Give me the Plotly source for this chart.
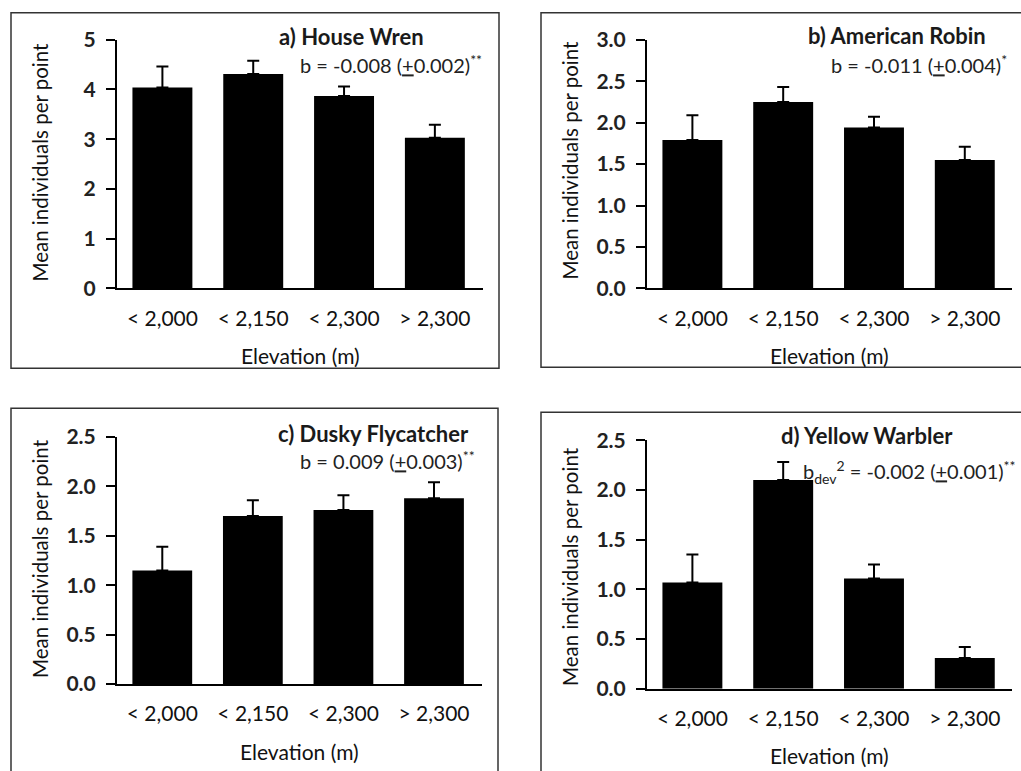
import plotly.graph_objects as go

# ---------------- data ----------------
categories = ["< 2,000", "< 2,150", "< 2,300", "> 2,300"]

house_wren = [4.04, 4.31, 3.87, 3.03]
house_wren_se = [0.42, 0.27, 0.19, 0.26]

american_robin = [1.79, 2.25, 1.94, 1.55]
american_robin_se = [0.30, 0.18, 0.13, 0.16]

dusky_flycatcher = [1.15, 1.70, 1.76, 1.88]
dusky_flycatcher_se = [0.24, 0.16, 0.15, 0.16]

yellow_warbler = [1.07, 2.10, 1.11, 0.31]
yellow_warbler_se = [0.28, 0.18, 0.14, 0.11]

panel_titles = ["a) House Wren", "b) American Robin", "c) Dusky Flycatcher", "d) Yellow Warbler"]
panel_stats = [
    "b = -0.008 (<u>+</u>0.002)<sup>**</sup>",
    "b = -0.011 (<u>+</u>0.004)<sup>*</sup>",
    "b = 0.009 (<u>+</u>0.003)<sup>**</sup>",
    "b<sub>dev</sub><sup>2</sup> = -0.002 (<u>+</u>0.001)<sup>**</sup>",
]
y_ranges = [[0, 5], [0, 3], [0, 2.5], [0, 2.5]]
y_dticks = [1, 0.5, 0.5, 0.5]
y_formats = ["d", ".1f", ".1f", ".1f"]
x_label = "Elevation (m)"
y_label = "Mean individuals per point"

# ---------------- layout helpers (pixel geometry) ----------------
W, H = 1021, 771
FONT = "Lato"
# measured vertical mapping of the viewer (screen_y = 0.969 * fig_y + 13.2)
VS, VO = 0.969, 13.2

def px(x):
    return x / W

def py(y):
    f = (y - VO) / VS
    return 1 - f / H

# axis pixel boxes (target screen pixels): (x0, x1, ytop, ybottom)
boxes = [
    (117, 483, 39, 288),
    (647, 1012, 39, 288),
    (117, 482, 436.7, 684.3),
    (647, 1012, 440, 689),
]
x_ranges = [[-0.5, 3.53], [-0.5, 3.52], [-0.5, 3.53], [-0.5, 3.52]]
frames = [
    (11, 12, 499, 368),
    (541, 12, 1040, 367),
    (11, 408, 498, 800),
    (541, 412, 1040, 800),
]
title_pos = [(351, 36), (897, 35), (373, 433), (867, 435)]
stat_pos = [(298, 63), (829, 63), (298, 460), (801, 472)]
ytitle_pos = [(40, 162), (570, 160), (40, 559), (570, 567)]

values = [house_wren, american_robin, dusky_flycatcher, yellow_warbler]
errors = [house_wren_se, american_robin_se, dusky_flycatcher_se, yellow_warbler_se]

fig = go.Figure()
annotations = []
shapes = []

for i in range(4):
    xa = "x" if i == 0 else f"x{i+1}"
    ya = "y" if i == 0 else f"y{i+1}"
    fig.add_trace(go.Bar(
        x=categories, y=values[i],
        xaxis=xa, yaxis=ya,
        marker=dict(color="black", line=dict(width=0)),
        width=0.66,
        error_y=dict(type="data", symmetric=False, array=errors[i],
                     arrayminus=[0] * 4, color="black", thickness=2, width=6),
        showlegend=False,
    ))
    x0, x1, yt, yb = boxes[i]
    xkey = "xaxis" if i == 0 else f"xaxis{i+1}"
    ykey = "yaxis" if i == 0 else f"yaxis{i+1}"
    fig.update_layout(**{
        xkey: dict(domain=[px(x0), px(x1)], anchor=ya, type="category",
                   range=x_ranges[i], showline=True, linecolor="black", linewidth=2,
                   ticks="", showgrid=False, zeroline=False,
                   tickfont=dict(family=FONT, size=21, color="#111"),
                   ticklabelstandoff=10),
        ykey: dict(domain=[py(yb), py(yt)], anchor=xa, range=y_ranges[i],
                   dtick=y_dticks[i], tick0=0, tickformat=y_formats[i],
                   showline=True, linecolor="black", linewidth=2,
                   ticks="outside", ticklen=9, tickwidth=2, tickcolor="black",
                   showgrid=False, zeroline=False,
                   tickfont=dict(family=FONT, size=21, color="#222", weight="bold"),
                   ticklabelstandoff=6),
    })
    # frame
    fx0, fy0, fx1, fy1 = frames[i]
    shapes.append(dict(type="rect", xref="paper", yref="paper",
                       x0=px(fx0), x1=px(fx1), y0=py(fy1), y1=py(fy0),
                       line=dict(color="#333", width=1.5)))
    # titles
    tx, ty = title_pos[i]
    annotations.append(dict(xref="paper", yref="paper", x=px(tx), y=py(ty),
                            text=f"<b>{panel_titles[i]}</b>", showarrow=False,
                            xanchor="center", yanchor="middle",
                            font=dict(family=FONT, size=22, color="#1a1a1a")))
    sx, sy = stat_pos[i]
    annotations.append(dict(xref="paper", yref="paper", x=px(sx), y=py(sy),
                            text=panel_stats[i], showarrow=False,
                            xanchor="left", yanchor="middle",
                            font=dict(family=FONT, size=20, color="#222")))
    # axis titles
    annotations.append(dict(xref="paper", yref="paper", x=px((x0 + x1) / 2),
                            y=py(yb + 67), text=x_label, showarrow=False,
                            xanchor="center", yanchor="middle",
                            font=dict(family=FONT, size=21, color="#111")))
    yx, yy = ytitle_pos[i]
    annotations.append(dict(xref="paper", yref="paper", x=px(yx), y=py(yy),
                            text=y_label, showarrow=False, textangle=-90,
                            xanchor="center", yanchor="middle",
                            font=dict(family=FONT, size=20.5, color="#111")))

fig.update_layout(
    width=W, height=H,
    margin=dict(l=0, r=0, t=0, b=0),
    paper_bgcolor="white", plot_bgcolor="white",
    annotations=annotations, shapes=shapes,
    bargap=0.34,
)

fig.write_html(
    "out.html",
    config={"displayModeBar": False},
    post_script="document.body.style.margin='0';document.body.style.padding='0';",
)
